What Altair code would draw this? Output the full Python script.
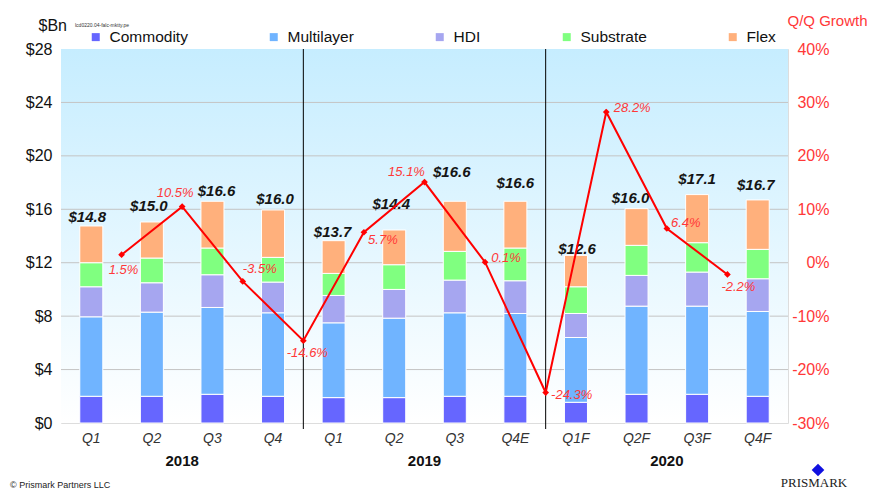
import altair as alt
import pandas as pd

# ---------------- data ----------------
quarters = ["Q1", "Q2", "Q3", "Q4", "Q1", "Q2", "Q3", "Q4E", "Q1F", "Q2F", "Q3F", "Q4F"]
years = ["2018", "2018", "2018", "2018", "2019", "2019", "2019", "2019", "2020", "2020", "2020", "2020"]

segments = ["Commodity", "Multilayer", "HDI", "Substrate", "Flex"]
commodity = [2.0, 2.0, 2.15, 2.0, 1.9, 1.9, 2.0, 2.0, 1.55, 2.15, 2.15, 2.0]
multilayer = [5.95, 6.3, 6.5, 6.25, 5.6, 5.95, 6.25, 6.2, 4.85, 6.6, 6.6, 6.35]
hdi = [2.25, 2.2, 2.45, 2.3, 2.05, 2.15, 2.45, 2.45, 1.8, 2.3, 2.55, 2.45]
substrate = [1.8, 1.85, 2.0, 1.85, 1.65, 1.85, 2.15, 2.45, 2.0, 2.25, 2.2, 2.2]
flex = [2.75, 2.7, 3.5, 3.55, 2.45, 2.6, 3.75, 3.5, 2.35, 2.75, 3.6, 3.7]

totals = [14.8, 15.0, 16.6, 16.0, 13.7, 14.4, 16.6, 16.6, 12.6, 16.0, 17.1, 16.7]
growth = [1.5, 10.5, -3.5, -14.6, 5.7, 15.1, 0.1, -24.3, 28.2, 6.4, -2.2]

left_ticks = [0, 4, 8, 12, 16, 20, 24, 28]
right_ticks = [-30, -20, -10, 0, 10, 20, 30, 40]

# ---------------- style ----------------
W, H = 727, 374
FONT = "Liberation Sans"
colors = ["#6666ff", "#70b4ff", "#a6a6f0", "#80ff80", "#ffb07c"]
RED = "#ff0000"
RED_TXT = "#ff3838"
TOTAL_DX = [-4, -3, 4, 2, -1, -3, -3, 0, 1, -6, 0, -2]
TOTAL_DY = [-3, -12, -5, -5, -3, -22, -24, -13, -1, -6, -11, -10]
GROWTH_OFF = [(2, 15), (-7, -14), (17, -12), (4, 12), (19, 8), (-18, -10),
              (21, -4), (26, 2), (26, -4), (19, -6), (11, 13)]

n = len(quarters)
keys = [f"{y}|{q}" for y, q in zip(years, quarters)]

rows = []
for i, k in enumerate(keys):
    for j, (s, arr) in enumerate(zip(segments, [commodity, multilayer, hdi, substrate, flex])):
        rows.append({"key": k, "segment": s, "value": arr[i], "ord": j})
bars_df = pd.DataFrame(rows)

tot_df = pd.DataFrame({"key": keys, "total": totals,
                       "label": [f"${t:.1f}" for t in totals], "i": list(range(n))})
gr_df = pd.DataFrame({"pos": [i + 1 for i in range(len(growth))], "g": growth,
                      "label": [f"{g:.1f}%" for g in growth], "i": list(range(len(growth)))})

# year groups
uniq_years = []
for y in years:
    if y not in uniq_years:
        uniq_years.append(y)
yr_pos, dividers = [], []
for y in uniq_years:
    idx = [i for i, v in enumerate(years) if v == y]
    yr_pos.append((idx[0] + idx[-1] + 1) / 2)
    if idx[0] > 0:
        dividers.append(idx[0])
yr_df = pd.DataFrame({"year": uniq_years, "p": yr_pos})
div_df = pd.DataFrame({"b": dividers})
grid_df = pd.DataFrame({"v": [t for t in left_ticks if 0 < t < 28]})

band = alt.Scale(domain=keys, paddingInner=0.62, paddingOuter=0.31)
yl = alt.Scale(domain=[0, 28], nice=False, zero=True)
yr = alt.Scale(domain=[-30, 40], nice=False, zero=False)
xq = alt.Scale(domain=[0, n], nice=False, zero=False)

one = pd.DataFrame({"a": [0]})

# ---------------- layers ----------------
bg = alt.Chart(one).mark_rect(
    color=alt.Gradient(gradient="linear", x1=0, x2=0, y1=0, y2=1,
                       stops=[alt.GradientStop(color="#c6edff", offset=0),
                              alt.GradientStop(color="#ffffff", offset=1)])
).encode(x=alt.value(0), x2=alt.value(W), y=alt.value(0), y2=alt.value(H))

grid = alt.Chart(grid_df).mark_rule(color="#c4c4c4", strokeWidth=1).encode(
    y=alt.Y("v:Q", scale=yl, axis=None), x=alt.value(0), x2=alt.value(W))

bars = alt.Chart(bars_df).mark_bar(stroke="white", strokeWidth=1).encode(
    x=alt.X("key:N", sort=keys, scale=band,
            axis=alt.Axis(title=None, labelExpr="split(datum.value, '|')[1]",
                          labelFont=FONT, labelFontSize=14, labelFontStyle="italic",
                          labelColor="#333333", labelPadding=8, ticks=False, tickSize=0,
                          domain=False, grid=False, labelAngle=0)),
    y=alt.Y("value:Q", stack="zero", scale=yl,
            axis=alt.Axis(values=left_ticks, labelExpr="'$' + datum.value",
                          labelFont=FONT, labelFontSize=16, labelColor="#111111",
                          labelPadding=9, ticks=False, tickSize=0, domain=False,
                          grid=False, labelFlush=False,
                          title="$Bn", titleAngle=0, titleAlign="left",
                          titleBaseline="middle", titleX=-23, titleY=-24,
                          titleFont=FONT, titleFontSize=16, titleFontWeight="normal",
                          titleColor="#111111")),
    color=alt.Color("segment:N", scale=alt.Scale(domain=segments, range=colors),
                    legend=alt.Legend(orient="none", legendX=27, legendY=-20,
                                      direction="horizontal", columns=5, title=None,
                                      symbolType="square", symbolSize=64,
                                      symbolStrokeWidth=0, labelFont=FONT,
                                      labelFontSize=15.5, labelColor="#111111",
                                      columnPadding=78, labelOffset=6, padding=0)),
    order=alt.Order("ord:Q"),
)

layers = [bg, grid, bars]

for i in range(n):
    layers.append(
        alt.Chart(tot_df).transform_filter(alt.datum.i == i).mark_text(
            font=FONT, fontSize=15, fontWeight="bold", fontStyle="italic",
            color="#151515", align="center", baseline="alphabetic",
            dx=TOTAL_DX[i], dy=TOTAL_DY[i]
        ).encode(x=alt.X("key:N", sort=keys, scale=band, axis=None),
                 y=alt.Y("total:Q", scale=yl, axis=None), text="label:N"))

divs = alt.Chart(div_df).mark_rule(color="#000000", strokeWidth=1).encode(
    x=alt.X("b:Q", scale=xq, axis=None), y=alt.value(0), y2=alt.value(H + 6))
layers.append(divs)

line = alt.Chart(gr_df).mark_line(color=RED, strokeWidth=2).encode(
    x=alt.X("pos:Q", scale=xq, axis=None),
    y=alt.Y("g:Q", scale=yr,
            axis=alt.Axis(orient="right", values=right_ticks,
                          labelExpr="datum.value + '%'", labelFont=FONT,
                          labelFontSize=16, labelColor=RED_TXT, labelAlign="right",
                          labelPadding=41, ticks=False, tickSize=0, domain=False,
                          grid=False, labelFlush=False,
                          title="Q/Q Growth", titleAngle=0, titleAlign="left",
                          titleBaseline="middle", titleX=-1, titleY=-29,
                          titleFont=FONT, titleFontSize=15, titleFontWeight="normal",
                          titleColor=RED_TXT)))
pts = alt.Chart(gr_df).mark_point(shape="diamond", filled=True, color=RED,
                                  size=45, opacity=1).encode(
    x=alt.X("pos:Q", scale=xq, axis=None), y=alt.Y("g:Q", scale=yr, axis=None))
layers += [line, pts]

for i, (dx, dy) in enumerate(GROWTH_OFF):
    layers.append(
        alt.Chart(gr_df).transform_filter(alt.datum.i == i).mark_text(
            font=FONT, fontSize=13, fontStyle="italic", color=RED_TXT,
            align="center", baseline="middle", dx=dx, dy=dy
        ).encode(x=alt.X("pos:Q", scale=xq, axis=None),
                 y=alt.Y("g:Q", scale=yr, axis=None), text="label:N"))

yrs = alt.Chart(yr_df).mark_text(font=FONT, fontSize=15, fontWeight="bold",
                                 color="#111111", baseline="middle").encode(
    x=alt.X("p:Q", scale=xq, axis=None), y=alt.value(H + 38), text="year:N")
layers.append(yrs)

note = alt.Chart(one).mark_text(font=FONT, fontSize=5, color="#333333", align="left",
                                baseline="middle", text="lcd0220.04-falc-mktty.pe").encode(
    x=alt.value(14), y=alt.value(-24))
copy = alt.Chart(one).mark_text(font=FONT, fontSize=9, color="#222222", align="left",
                                baseline="middle", text="© Prismark Partners LLC").encode(
    x=alt.value(-51), y=alt.value(H + 62))
logo = alt.Chart(one).mark_point(shape="diamond", filled=True, color="#1010e0",
                                 size=160, opacity=1).encode(
    x=alt.value(W + 30), y=alt.value(H + 47))
brand = alt.Chart(one).mark_text(font="Liberation Serif", fontSize=13, color="#222222",
                                 align="center", baseline="middle", text="PRISMARK").encode(
    x=alt.value(W + 26), y=alt.value(H + 60))
layers += [note, copy, logo, brand]

chart = alt.layer(*layers).resolve_scale(
    x="independent", y="independent"
).properties(
    width=W, height=H,
    padding={"left": 53, "top": 41, "right": 79, "bottom": 73},
    autosize=alt.AutoSizeParams(type="none"),
).configure_view(stroke=None).configure(background="white", font=FONT)

chart.save("out.html", embed_options={"renderer": "svg", "actions": False})
